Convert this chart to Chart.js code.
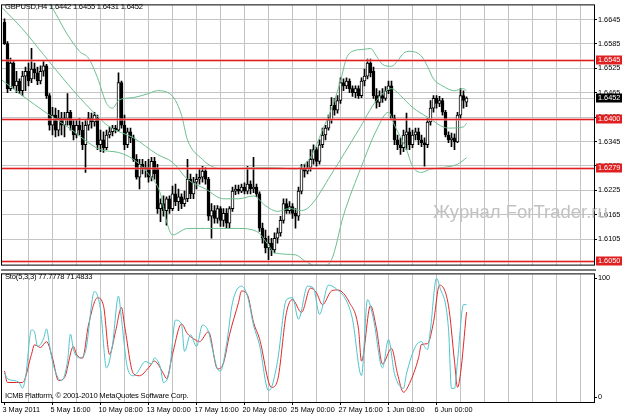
<!DOCTYPE html>
<html>
<head>
<meta charset="utf-8">
<script src="https://cdn.jsdelivr.net/npm/chart.js@4.4.1/dist/chart.umd.min.js"></script>
<style>
html, body { margin: 0; padding: 0; background: #fff; }
#wrap { position: relative; width: 623px; height: 416px; overflow: hidden; background: #fff;
        font-family: "Liberation Sans", Arial, sans-serif; }
#mainChart { position: absolute; left: 0; top: 0; }
#stoChart { position: absolute; left: 0; top: 269px; }
#sep { position: absolute; left: 1px; top: 269px; width: 595px; height: 2px; background: #7c7c7c; }
.txt { position: absolute; font-size: 7.6px; letter-spacing: -0.2px; line-height: 1; color: #000; white-space: nowrap; }
#wm { position: absolute; left: 433px; top: 203px; font-size: 18.5px; line-height: 1; color: #c2c2c2; white-space: nowrap; }
</style>
</head>
<body>
<div id="wrap">
  <canvas id="mainChart" width="623" height="270"></canvas>
  <canvas id="stoChart" width="623" height="147"></canvas>
  <div id="sep"></div>
  <div class="txt" id="head" style="left:5px; top:2.5px;"></div>
  <div class="txt" id="stoHead" style="left:5px; top:273px;"></div>
  <div class="txt" style="left:5px; top:392px;">ICMB Platform, © 2001-2010 MetaQuotes Software Corp.</div>
  <div id="wm">Журнал ForTrader.ru</div>
</div>
<script>
// GBPUSD H4, velas desde 3 May 2011 00:00 (indice 0) hasta 7 Jun 16:00 (indice 154)
const opens = [
  1.6639,1.6586,1.6475,1.6538,1.6482,1.6494,1.6470,1.6506,1.6518,1.6499,
  1.6523,1.6514,1.6494,1.6518,1.6531,1.6458,1.6385,1.6410,1.6373,1.6402,
  1.6385,1.6402,1.6417,1.6385,1.6361,1.6385,1.6373,1.6337,1.6385,1.6402,
  1.6393,1.6402,1.6337,1.6349,1.6330,1.6361,1.6369,1.6378,1.6373,1.6490,
  1.6385,1.6337,1.6369,1.6354,1.6301,1.6257,1.6289,1.6277,1.6281,1.6257,
  1.6296,1.6277,1.6180,1.6192,1.6175,1.6204,1.6180,1.6216,1.6197,1.6209,
  1.6192,1.6204,1.6252,1.6216,1.6245,1.6252,1.6257,1.6272,1.6252,1.6161,
  1.6175,1.6156,1.6180,1.6151,1.6168,1.6144,1.6180,1.6223,1.6228,1.6223,
  1.6233,1.6223,1.6240,1.6228,1.6233,1.6216,1.6132,1.6107,1.6083,1.6095,
  1.6078,1.6107,1.6120,1.6151,1.6192,1.6175,1.6185,1.6168,1.6161,1.6223,
  1.6277,1.6272,1.6281,1.6301,1.6325,1.6296,1.6337,1.6361,1.6378,1.6398,
  1.6434,1.6422,1.6446,1.6490,1.6482,1.6494,1.6475,1.6465,1.6475,1.6458,
  1.6494,1.6506,1.6538,1.6518,1.6458,1.6441,1.6458,1.6451,1.6470,1.6482,
  1.6402,1.6349,1.6337,1.6330,1.6361,1.6369,1.6337,1.6361,1.6369,1.6349,
  1.6342,1.6337,1.6393,1.6427,1.6451,1.6439,1.6446,1.6417,1.6361,1.6349,
  1.6354,1.6344,1.6410,1.6458,1.6442
];
const highs = [
  1.6647,1.6591,1.6550,1.6543,1.6518,1.6499,1.6518,1.6528,1.6538,1.6574,
  1.6538,1.6528,1.6531,1.6543,1.6535,1.6463,1.6429,1.6427,1.6422,1.6417,
  1.6417,1.6463,1.6422,1.6398,1.6398,1.6402,1.6393,1.6398,1.6417,1.6415,
  1.6417,1.6410,1.6373,1.6369,1.6373,1.6381,1.6385,1.6385,1.6514,1.6494,
  1.6410,1.6378,1.6378,1.6361,1.6313,1.6301,1.6301,1.6296,1.6301,1.6306,
  1.6306,1.6289,1.6204,1.6211,1.6209,1.6211,1.6235,1.6240,1.6228,1.6216,
  1.6223,1.6301,1.6265,1.6257,1.6265,1.6277,1.6284,1.6281,1.6257,1.6192,
  1.6187,1.6187,1.6185,1.6180,1.6180,1.6185,1.6233,1.6238,1.6238,1.6240,
  1.6243,1.6284,1.6248,1.6306,1.6240,1.6221,1.6144,1.6127,1.6112,1.6107,
  1.6120,1.6132,1.6161,1.6204,1.6204,1.6197,1.6192,1.6180,1.6233,1.6289,
  1.6289,1.6296,1.6325,1.6337,1.6330,1.6349,1.6378,1.6385,1.6410,1.6453,
  1.6451,1.6458,1.6502,1.6499,1.6502,1.6499,1.6482,1.6482,1.6482,1.6502,
  1.6523,1.6548,1.6548,1.6528,1.6475,1.6470,1.6475,1.6480,1.6494,1.6494,
  1.6410,1.6361,1.6354,1.6373,1.6415,1.6378,1.6373,1.6378,1.6378,1.6361,
  1.6354,1.6402,1.6446,1.6458,1.6458,1.6456,1.6451,1.6422,1.6369,1.6366,
  1.6364,1.6417,1.6475,1.6470,1.6455
];
const lows = [
  1.6584,1.6465,1.6470,1.6475,1.6465,1.6463,1.6458,1.6470,1.6482,1.6490,
  1.6499,1.6485,1.6487,1.6506,1.6451,1.6373,1.6361,1.6356,1.6359,1.6361,
  1.6356,1.6385,1.6373,1.6349,1.6354,1.6361,1.6325,1.6269,1.6373,1.6378,
  1.6383,1.6325,1.6320,1.6318,1.6325,1.6354,1.6359,1.6366,1.6369,1.6378,
  1.6325,1.6330,1.6342,1.6296,1.6252,1.6228,1.6265,1.6257,1.6245,1.6248,
  1.6252,1.6168,1.6148,1.6161,1.6139,1.6168,1.6175,1.6187,1.6175,1.6180,
  1.6185,1.6197,1.6204,1.6204,1.6228,1.6240,1.6245,1.6240,1.6151,1.6107,
  1.6144,1.6144,1.6136,1.6136,1.6132,1.6132,1.6173,1.6214,1.6216,1.6219,
  1.6216,1.6216,1.6216,1.6219,1.6209,1.6124,1.6095,1.6071,1.6054,1.6064,
  1.6071,1.6095,1.6112,1.6144,1.6168,1.6168,1.6156,1.6132,1.6151,1.6216,
  1.6257,1.6265,1.6272,1.6289,1.6284,1.6289,1.6330,1.6349,1.6373,1.6390,
  1.6410,1.6415,1.6439,1.6470,1.6475,1.6465,1.6456,1.6453,1.6451,1.6453,
  1.6482,1.6499,1.6504,1.6451,1.6427,1.6431,1.6441,1.6446,1.6463,1.6398,
  1.6337,1.6325,1.6313,1.6320,1.6325,1.6325,1.6330,1.6349,1.6337,1.6332,
  1.6284,1.6330,1.6385,1.6417,1.6427,1.6431,1.6410,1.6356,1.6342,1.6332,
  1.6325,1.6342,1.6402,1.6427,1.6431
];
const closes = [
  1.6586,1.6475,1.6538,1.6482,1.6494,1.6470,1.6506,1.6518,1.6494,1.6523,
  1.6514,1.6494,1.6518,1.6531,1.6458,1.6385,1.6410,1.6373,1.6402,1.6385,
  1.6402,1.6417,1.6385,1.6361,1.6385,1.6373,1.6337,1.6385,1.6402,1.6393,
  1.6410,1.6337,1.6349,1.6330,1.6361,1.6369,1.6378,1.6373,1.6490,1.6385,
  1.6337,1.6369,1.6354,1.6301,1.6257,1.6289,1.6277,1.6281,1.6257,1.6296,
  1.6265,1.6180,1.6192,1.6175,1.6204,1.6180,1.6216,1.6197,1.6209,1.6192,
  1.6204,1.6252,1.6216,1.6245,1.6252,1.6257,1.6272,1.6252,1.6161,1.6175,
  1.6156,1.6180,1.6151,1.6168,1.6144,1.6180,1.6223,1.6228,1.6223,1.6233,
  1.6223,1.6240,1.6228,1.6233,1.6216,1.6132,1.6107,1.6083,1.6095,1.6078,
  1.6107,1.6120,1.6151,1.6192,1.6175,1.6185,1.6168,1.6161,1.6223,1.6277,
  1.6272,1.6281,1.6301,1.6325,1.6296,1.6337,1.6361,1.6378,1.6398,1.6434,
  1.6422,1.6446,1.6490,1.6482,1.6494,1.6475,1.6465,1.6475,1.6458,1.6494,
  1.6506,1.6538,1.6514,1.6458,1.6441,1.6458,1.6451,1.6470,1.6482,1.6402,
  1.6349,1.6337,1.6330,1.6361,1.6369,1.6337,1.6361,1.6369,1.6349,1.6342,
  1.6337,1.6393,1.6427,1.6451,1.6439,1.6446,1.6417,1.6361,1.6349,1.6354,
  1.6344,1.6410,1.6458,1.6446,1.6452
];

// Bandas de Bollinger (indice de vela -> precio)
const bbUpperIdx = [10,15,21,25,28,31,34,36,38,40,43,48,51,55,57,59,61,66,69,73,79,84,90,97,99,
  102,106,110,112,114,116,120,122,124,126,129,131,133,135,139,141,143,146,150,153,154];
const bbUpper = [1.6712,1.6683,1.6608,1.6567,1.6550,1.6502,1.6439,1.6427,1.6446,1.6451,
  1.6453,1.6463,1.6470,1.6463,1.6446,1.6410,1.6349,1.6301,1.6284,1.6277,
  1.6279,1.6281,1.6281,1.6277,1.6284,1.6306,1.6373,1.6446,1.6494,1.6550,
  1.6567,1.6572,1.6574,1.6555,1.6535,1.6530,1.6543,1.6562,1.6567,1.6555,
  1.6530,1.6499,1.6482,1.6470,1.6475,1.6470];
const bbMidIdx = [-1,6,13,21,29,35,43,51,56,61,67,73,78,83,87,91,95,99,102,109,
  118,124,129,132,136,141,148,153,154];
const bbMid = [1.6676,1.6622,1.6559,1.6487,1.6422,1.6381,1.6354,1.6313,1.6294,1.6252,
  1.6228,1.6204,1.6204,1.6211,1.6187,1.6173,1.6180,1.6175,1.6187,1.6265,
  1.6373,1.6446,1.6475,1.6458,1.6429,1.6405,1.6378,1.6381,1.6390];
const bbLowIdx = [-1,5,15,21,32,38,43,48,52,54,56,61,67,78,84,88,90,97,100,105,
  109,113,119,124,128,130,134,136,139,142,146,151,154];
const bbLow = [1.6497,1.6463,1.6410,1.6381,1.6325,1.6318,1.6301,1.6265,1.6216,1.6149,
  1.6115,1.6131,1.6131,1.6131,1.6124,1.6090,1.6071,1.6066,1.6052,1.6035,
  1.6054,1.6163,1.6284,1.6373,1.6417,1.6385,1.6325,1.6284,1.6269,1.6277,
  1.6281,1.6289,1.6305];

// Estocastico (5,3,3): %K y %D
const kIdx = [0,1,3,5,6,7,9,10,11,13,14,15,16,18,19,21,22,23,25,27,30,32,34,36,38,
  39,41,43,44,47,49,50,52,53,55,57,59,60,62,64,66,68,69,71,72,74,76,79,81,83,
  85,88,89,91,94,96,98,101,103,105,108,111,114,116,119,121,123,126,128,130,
  133,134,137,139,140,141,142,144,145,148,149,150,151,153,154];
const kVal = [20.5,15.6,14,12,7.4,16.4,56.6,55,42.6,49,57.4,44,30,15.6,14,30,53,40,33,38.5,
  89,74,24.6,44,85,65.6,24.6,18,19.7,30,28,33,24.6,12.3,22,64.8,61.5,38.5,52.5,42.6,
  60.7,55,44,23.8,22,44,79.5,93.4,85,60.7,44,5.7,8.2,30,82,83.6,65.6,93.4,91.8,69.7,
  94.3,90.2,81,65.6,18,82,65.6,24.6,48.4,19.7,7.4,19.7,42.6,46.7,42.6,40,57.4,100,93.4,57.4,
  7.4,7.4,30,77.9,77.7778];
const dIdx = [0,1,4,6,9,10,12,14,16,18,20,23,24,26,28,31,33,35,37,39,40,43,45,48,50,
  53,54,56,59,61,63,65,68,71,73,75,78,79,81,83,85,89,91,94,96,99,102,104,106,109,
  111,115,118,119,122,124,126,129,131,133,135,138,139,141,143,145,148,150,151,152,154];
const dVal = [22,12.3,12.3,12.3,36,44,41.8,46.7,32.8,14,16.4,42.6,36,32.8,60.7,83.6,77,36,55,75.4,
  60.7,19.7,18,24.6,30.3,19.7,15.6,36,61.5,53.3,49.2,46.7,55,23.8,28.7,52.5,79.5,89.3,86,63,
  49.2,8.2,14,71.3,82,71.3,91.8,87.7,77.9,89.3,90.2,79.5,57.4,30.3,77,57.4,27.9,41,19.7,4.1,
  11.5,32.8,44.3,45,63,94.3,77,30.3,8.2,19.7,71.4833];

// niveles horizontales y ejes
const levels = [1.6545, 1.6400, 1.6279, 1.6050];
const priceTicks = [1.6105, 1.6165, 1.6225, 1.6285, 1.6345, 1.6405, 1.6465, 1.6525, 1.6585, 1.6645];
const timeTickIdx = [0, 16, 32, 48, 64, 80, 96, 112, 128, 144];
const timeTickText = ['3 May 2011', '5 May 16:00', '10 May 08:00', '13 May 00:00', '17 May 16:00',
  '20 May 08:00', '25 May 00:00', '27 May 16:00', '1 Jun 08:00', '6 Jun 00:00'];

const X_MIN = -0.8333, X_MAX = 196.5;
const PRICE_MIN = 1.6042, PRICE_MAX = 1.6680;
const BB_COLOR = '#6cbf8f';
const GRID = '#c4c4c4';
const FONT = '"Liberation Sans", Arial, sans-serif';

Chart.defaults.font.family = FONT;
Chart.defaults.font.size = 7.3;
Chart.defaults.color = '#000';

const last = closes.length - 1;
document.getElementById('head').textContent =
  `GBPUSD,H4  ${opens[last].toFixed(4)} ${highs[last].toFixed(4)} ${lows[last].toFixed(4)} ${closes[last].toFixed(4)}`;
document.getElementById('stoHead').textContent =
  `Sto(5,3,3) ${kVal[kVal.length - 1]} ${dVal[dVal.length - 1]}`;

const gridIdx = [];
for (let i = 8; i < X_MAX; i += 8) gridIdx.push(i);

const framePlugin = {
  id: 'frame',
  afterDraw(chart) {
    const { ctx, chartArea: a } = chart;
    ctx.save();
    ctx.strokeStyle = '#000';
    ctx.lineWidth = 1;
    ctx.strokeRect(a.left - 0.5, a.top - 0.5, a.right - a.left + 1, a.bottom - a.top + 1);
    ctx.restore();
  }
};

function priceBox(ctx, y, text, bg) {
  ctx.fillStyle = bg;
  ctx.fillRect(596, Math.round(y) - 4.5, 26, 9);
  ctx.fillStyle = '#fff';
  ctx.font = `7.3px ${FONT}`;
  ctx.textBaseline = 'middle';
  ctx.fillText(text, 598, Math.round(y));
}

const levelsPlugin = {
  id: 'levels',
  beforeDatasetsDraw(chart) {
    // linea bid gris
    const { ctx, chartArea: a, scales: { y } } = chart;
    const py = Math.round(y.getPixelForValue(closes[last])) + 0.5;
    ctx.save();
    ctx.strokeStyle = '#c8c8c8';
    ctx.lineWidth = 1;
    ctx.beginPath(); ctx.moveTo(a.left, py); ctx.lineTo(a.right, py); ctx.stroke();
    ctx.restore();
  },
  afterDatasetsDraw(chart) {
    const { ctx, chartArea: a, scales: { y } } = chart;
    ctx.save();
    levels.forEach(v => {
      const py = Math.round(y.getPixelForValue(v));
      ctx.fillStyle = 'rgba(240,140,140,0.6)';
      ctx.fillRect(a.left, py - 1, a.right - a.left, 3);
      ctx.fillStyle = '#e02020';
      ctx.fillRect(a.left, py, a.right - a.left, 1);
    });
    ctx.restore();
  },
  afterDraw(chart) {
    const { ctx, scales: { y } } = chart;
    ctx.save();
    levels.forEach(v => priceBox(ctx, y.getPixelForValue(v), v.toFixed(4), '#e02020'));
    priceBox(ctx, y.getPixelForValue(closes[last]), closes[last].toFixed(4), '#000');
    ctx.restore();
  }
};

const xScaleBase = {
  type: 'linear',
  min: X_MIN,
  max: X_MAX,
  offset: false,
  border: { display: false },
  afterBuildTicks: s => { s.ticks = gridIdx.map(v => ({ value: v })); }
};

// grafico principal: velas + Bollinger
new Chart(document.getElementById('mainChart'), {
  type: 'bar',
  data: {
    datasets: [
      {
        type: 'line', data: bbUpperIdx.map((x, i) => ({ x, y: bbUpper[i] })),
        borderColor: BB_COLOR, borderWidth: 1, pointRadius: 0, cubicInterpolationMode: 'monotone', order: 0
      },
      {
        type: 'line', data: bbMidIdx.map((x, i) => ({ x, y: bbMid[i] })),
        borderColor: BB_COLOR, borderWidth: 1, pointRadius: 0, cubicInterpolationMode: 'monotone', order: 0
      },
      {
        type: 'line', data: bbLowIdx.map((x, i) => ({ x, y: bbLow[i] })),
        borderColor: BB_COLOR, borderWidth: 1, pointRadius: 0, cubicInterpolationMode: 'monotone', order: 0
      },
      {
        // cuerpos
        data: opens.map((o, i) => ({ x: i, y: [o, closes[i]] })),
        backgroundColor: opens.map((o, i) => closes[i] >= o ? '#ffffff' : '#000000'),
        borderColor: '#000', borderWidth: 1, borderSkipped: false,
        barThickness: 3, grouped: false, order: 1
      },
      {
        // mechas
        data: lows.map((l, i) => ({ x: i, y: [l, highs[i]] })),
        backgroundColor: '#000', borderWidth: 0,
        barThickness: 1, grouped: false, order: 2
      }
    ]
  },
  options: {
    responsive: false,
    animation: false,
    events: [],
    layout: { padding: { left: 2, top: 2, right: 0, bottom: 2 } },
    plugins: { legend: { display: false }, tooltip: { enabled: false } },
    scales: {
      x: {
        ...xScaleBase,
        ticks: { display: false },
        grid: { color: GRID, borderDash: [2, 2], drawTicks: false, offset: false },
        afterFit: s => { s.height = 0; }
      },
      y: {
        type: 'linear',
        position: 'right',
        min: PRICE_MIN,
        max: PRICE_MAX,
        border: { display: false },
        afterBuildTicks: s => { s.ticks = priceTicks.map(v => ({ value: v })); },
        ticks: { padding: 1, callback: v => v.toFixed(4), font: { size: 7.3 } },
        grid: { color: GRID, borderDash: [2, 2], drawTicks: true, tickLength: 3, tickColor: '#000', tickBorderDash: [] },
        afterFit: s => { s.width = 29; }
      }
    }
  },
  plugins: [levelsPlugin, framePlugin]
});

// subventana del estocastico
new Chart(document.getElementById('stoChart'), {
  type: 'line',
  data: {
    datasets: [
      {
        data: kIdx.map((x, i) => ({ x, y: kVal[i] })),
        borderColor: '#4cc4cc', borderWidth: 1, pointRadius: 0, cubicInterpolationMode: 'monotone'
      },
      {
        data: dIdx.map((x, i) => ({ x, y: dVal[i] })),
        borderColor: '#e02828', borderWidth: 1, pointRadius: 0, cubicInterpolationMode: 'monotone'
      }
    ]
  },
  options: {
    responsive: false,
    animation: false,
    events: [],
    layout: { padding: { left: 2, top: 2, right: 0, bottom: 0 } },
    plugins: { legend: { display: false }, tooltip: { enabled: false } },
    scales: {
      x: {
        ...xScaleBase,
        afterBuildTicks: s => { s.ticks = [0, ...gridIdx].map(v => ({ value: v })); },
        ticks: {
          autoSkip: false, maxRotation: 0, minRotation: 0, align: 'start', labelOffset: -2, padding: 1,
          callback: v => { const k = timeTickIdx.indexOf(v); return k >= 0 ? timeTickText[k] : ''; }
        },
        grid: {
          color: c => (c.tick && c.tick.value === 0) ? 'rgba(0,0,0,0)' : GRID,
          borderDash: [2, 2], offset: false, drawTicks: true, tickLength: 3,
          tickColor: c => (c.tick && timeTickIdx.includes(c.tick.value)) ? '#000' : 'rgba(0,0,0,0)',
          tickBorderDash: []
        },
        afterFit: s => { s.height = 14; }
      },
      y: {
        type: 'linear',
        position: 'right',
        min: -4.1,
        max: 103.3,
        border: { display: false },
        afterBuildTicks: s => { s.ticks = [0, 100].map(v => ({ value: v })); },
        ticks: { padding: 1, callback: v => String(v) },
        grid: { color: 'rgba(0,0,0,0)', drawTicks: true, tickLength: 3, tickColor: '#000' },
        afterFit: s => { s.width = 29; }
      }
    }
  },
  plugins: [framePlugin]
});
</script>
</body>
</html>
